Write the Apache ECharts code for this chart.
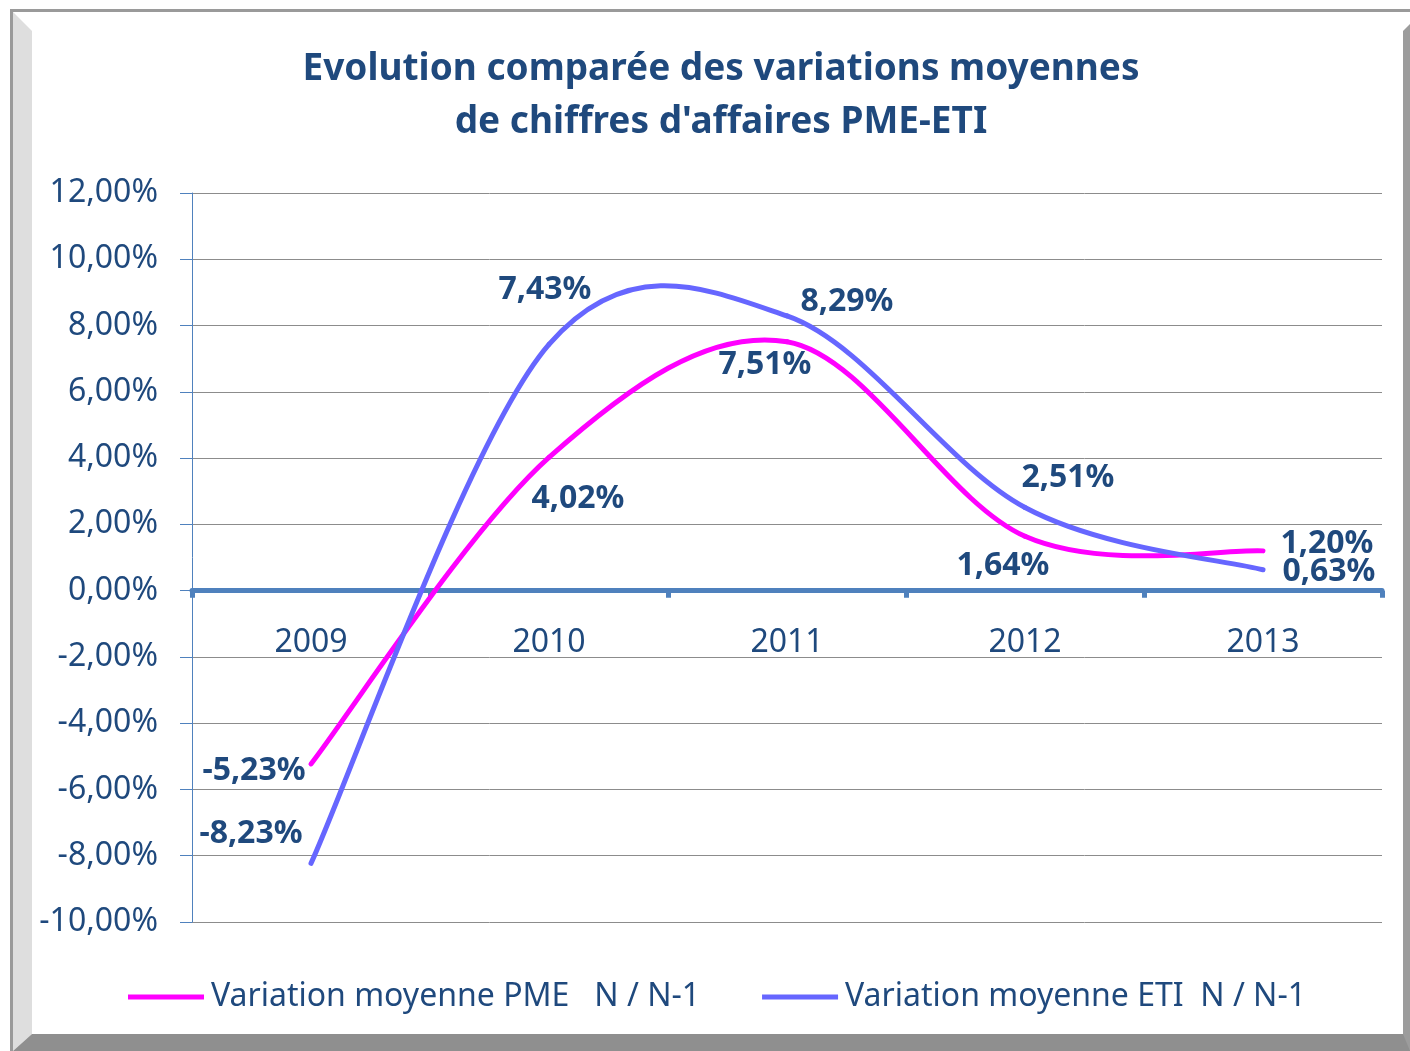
<!DOCTYPE html>
<html>
<head>
<meta charset="utf-8">
<title>Evolution comparée PME-ETI</title>
<script src="https://cdn.jsdelivr.net/npm/echarts@6/dist/echarts.min.js"></script>
<style>
  html, body { margin: 0; padding: 0; background: #fff; }
  #chart { width: 1410px; height: 1051px; }
</style>
</head>
<body>
<div id="chart"></div>
<script>
var years = ['2009', '2010', '2011', '2012', '2013'];
var pmeValues = [-5.23, 4.02, 7.51, 1.64, 1.20];
var etiValues = [-8.23, 7.43, 8.29, 2.51, 0.63];
var pmeName = 'Variation moyenne PME   N / N-1';
var etiName = 'Variation moyenne ETI  N / N-1';
var yMin = -10, yMax = 12, yStep = 2;

// label centre offset from each point (placed by hand like in Excel)
var pmeLabelOff = [[-57, 7], [29, 41], [-22, 23], [-22, 30], [64, -7]];
var etiLabelOff = [[-60, -29], [-4, -55], [60, -14], [43, -30], [66, 2]];

var txtColor = '#1f497d';
var font = '"Noto Sans", "Open Sans", sans-serif';
var gridTop = 193, gridBottom = 129, plotH = 1051 - gridTop - gridBottom;

function pct(v) {
    return v.toFixed(2).replace('.', ',') + '%';
}

// Excel style smoothed line: cubic bezier with catmull-rom tangents (1/6)
function curveRenderer(labelOff) {
    return function (params, api) {
        var i = params.dataIndexInside;
        var n = params.dataInsideLength;
        var pts = [];
        for (var k = 0; k < n; k++) {
            pts.push(api.coord([api.value(0, k), api.value(1, k)]));
        }
        var color = api.visual('color');
        var children = [];
        if (i < n - 1) {
            var p0 = pts[Math.max(i - 1, 0)], p1 = pts[i], p2 = pts[i + 1], p3 = pts[Math.min(i + 2, n - 1)];
            children.push({
                type: 'bezierCurve',
                shape: {
                    x1: p1[0], y1: p1[1],
                    cpx1: p1[0] + (p2[0] - p0[0]) / 6, cpy1: p1[1] + (p2[1] - p0[1]) / 6,
                    cpx2: p2[0] - (p3[0] - p1[0]) / 6, cpy2: p2[1] - (p3[1] - p1[1]) / 6,
                    x2: p2[0], y2: p2[1]
                },
                style: { stroke: color, lineWidth: 5, lineCap: 'round', fill: null },
                z2: 1
            });
        }
        children.push({
            type: 'text',
            x: pts[i][0] + labelOff[i][0],
            y: pts[i][1] + labelOff[i][1],
            style: {
                text: pct(api.value(1)),
                fill: txtColor,
                fontFamily: font,
                fontWeight: 'bold',
                fontSize: 32,
                align: 'center',
                verticalAlign: 'middle'
            },
            z2: 10
        });
        return { type: 'group', children: children };
    };
}

function curveSeries(name, values, labelOff, color) {
    return {
        name: name,
        type: 'custom',
        coordinateSystem: 'cartesian2d',
        encode: { x: 0, y: 1 },
        itemStyle: { color: color },
        data: values.map(function (v, i) { return [i, v]; }),
        renderItem: curveRenderer(labelOff),
        emphasis: { disabled: true },
        silent: true,
        z: 3
    };
}

var myChart = echarts.init(document.getElementById('chart'), null, { renderer: 'canvas' });

var option = {
    animation: false,
    backgroundColor: '#ffffff',
    textStyle: { fontFamily: font },
    graphic: [
        // frame: top line, left bevel, bottom and right shadow
        { type: 'rect', shape: { x: 10, y: 9, width: 1400, height: 3 }, style: { fill: '#9a9a9a' }, z: -10 },
        { type: 'rect', shape: { x: 10, y: 9, width: 3, height: 1042 }, style: { fill: '#9a9a9a' }, z: -10 },
        { type: 'polygon', shape: { points: [[13, 12], [32, 31], [32, 1034], [13, 1051]] }, style: { fill: '#dedede' }, z: -10 },
        { type: 'polygon', shape: { points: [[13, 1051], [32, 1034], [1410, 1034], [1410, 1051]] }, style: { fill: '#8f8f8f' }, z: -10 },
        { type: 'polygon', shape: { points: [[1403, 31], [1410, 24], [1410, 1051], [1403, 1034]] }, style: { fill: '#9c9c9c' }, z: -10 }
    ],
    title: {
        text: 'Evolution comparée des variations moyennes\nde chiffres d\'affaires PME-ETI',
        left: 716,
        textAlign: 'center',
        top: 38,
        textStyle: {
            color: txtColor,
            fontFamily: font,
            fontWeight: 'bold',
            fontSize: 37,
            lineHeight: 53
        }
    },
    legend: {
        left: 123,
        top: 976,
        itemWidth: 76,
        itemHeight: 5,
        itemGap: 62,
        icon: 'rect',
        selectedMode: false,
        textStyle: { color: txtColor, fontFamily: font, fontSize: 32, padding: [0, 0, 0, 2] },
        data: [pmeName, etiName]
    },
    grid: { left: 192, right: 28, top: gridTop, bottom: gridBottom },
    xAxis: {
        type: 'category',
        data: years,
        boundaryGap: true,
        // axis sits on the zero line, labels just below it
        offset: -plotH * (0 - yMin) / (yMax - yMin),
        axisLine: { onZero: false, lineStyle: { color: '#4f81bd', width: 5 } },
        axisTick: { show: true, length: 7, lineStyle: { color: '#4f81bd', width: 5 } },
        axisLabel: { color: txtColor, fontFamily: font, fontSize: 32, margin: 36 },
        splitLine: { show: false },
        z: 2
    },
    yAxis: {
        type: 'value',
        min: yMin,
        max: yMax,
        interval: yStep,
        axisLine: { show: true, lineStyle: { color: '#4f81bd', width: 1 } },
        axisTick: { show: true, length: 12, lineStyle: { color: '#4f81bd', width: 1 } },
        axisLabel: {
            color: txtColor,
            fontFamily: font,
            fontSize: 32,
            margin: 34,
            formatter: function (v) { return pct(v); }
        },
        splitLine: { show: true, lineStyle: { color: '#8c8c8c', width: 1 } }
    },
    series: [
        curveSeries(pmeName, pmeValues, pmeLabelOff, '#ff00ff'),
        curveSeries(etiName, etiValues, etiLabelOff, '#6666ff')
    ]
};
myChart.setOption(option);
</script>
</body>
</html>
